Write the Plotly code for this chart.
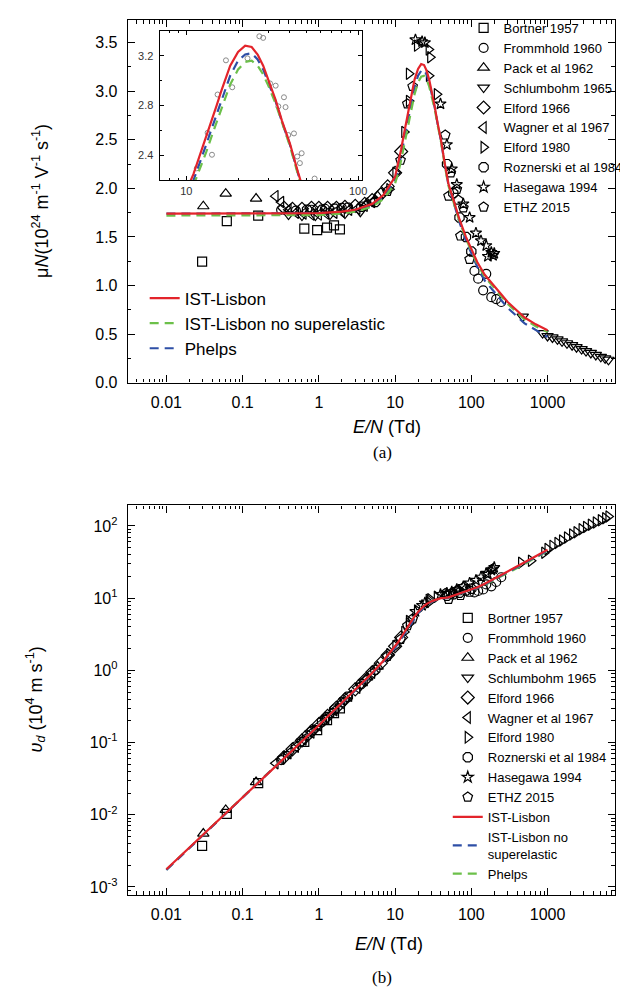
import plotly.graph_objects as go

# ---------------- data ----------------
# E/N (Td) grid of the computed curves
EN_fit = [0.01, 0.03, 0.1, 0.3, 1, 2, 3, 5, 7, 10, 11, 12, 13, 14, 15, 16, 18, 20, 22, 24,
          26, 28, 30, 33, 36, 40, 45, 50, 60, 70, 85, 100, 120, 150, 200, 300, 500, 700, 1000]
# (a) reduced mobility muN (1e24 m^-1 V^-1 s^-1)
mu_ist = [1.74, 1.74, 1.74, 1.74, 1.745, 1.76, 1.78, 1.84, 1.93, 2.12, 2.25, 2.40, 2.55, 2.68,
          2.80, 2.92, 3.12, 3.23, 3.28, 3.27, 3.21, 3.12, 3.01, 2.85, 2.68, 2.50, 2.25, 2.05,
          1.85, 1.68, 1.50, 1.38, 1.24, 1.11, 0.99, 0.83, 0.67, 0.60, 0.54]
mu_ist_nosup = [1.72, 1.72, 1.72, 1.72, 1.725, 1.74, 1.76, 1.81, 1.89, 2.05, 2.16, 2.29, 2.42,
                2.55, 2.67, 2.78, 2.97, 3.09, 3.15, 3.16, 3.12, 3.05, 2.96, 2.82, 2.66, 2.48,
                2.23, 2.03, 1.83, 1.66, 1.48, 1.36, 1.22, 1.09, 0.97, 0.81, 0.65, 0.58, 0.52]
mu_phelps = [1.74, 1.74, 1.74, 1.74, 1.745, 1.755, 1.77, 1.82, 1.91, 2.08, 2.20, 2.34, 2.48,
             2.61, 2.73, 2.85, 3.04, 3.16, 3.21, 3.22, 3.17, 3.09, 2.99, 2.84, 2.67, 2.49,
             2.24, 2.04, 1.83, 1.65, 1.46, 1.33, 1.19, 1.05, 0.93, 0.77, 0.61, 0.54, 0.47]
# (b) drift velocity (1e4 m/s)
vd_ist = [0.00176, 0.0052, 0.0174, 0.052, 0.174, 0.352, 0.534, 0.92, 1.35, 2.12, 2.47, 2.88,
          3.31, 3.75, 4.2, 4.67, 5.6, 6.46, 7.2, 7.85, 8.35, 8.74, 9.03, 9.4, 9.65, 10.0, 10.1,
          10.25, 11.0, 11.6, 12.4, 13.2, 14.2, 15.8, 18.6, 23.0, 31.0, 38.0, 47.0]
vd_ist_nosup = [0.00172, 0.00516, 0.0172, 0.0516, 0.1725, 0.348, 0.528, 0.905, 1.32, 2.05,
                2.38, 2.75, 3.15, 3.57, 4.0, 4.45, 5.35, 6.18, 6.93, 7.58, 8.11, 8.54, 8.88,
                9.3, 9.58, 9.92, 10.0, 10.15, 10.9, 11.5, 12.3, 13.0, 14.0, 15.5, 18.2, 22.6,
                30.2, 37.2, 46.0]
vd_phelps = [0.00174, 0.00522, 0.0174, 0.0522, 0.1745, 0.351, 0.531, 0.91, 1.34, 2.08, 2.42,
             2.81, 3.22, 3.65, 4.1, 4.56, 5.47, 6.32, 7.06, 7.73, 8.24, 8.65, 8.97, 9.37, 9.61,
             9.96, 10.05, 10.2, 10.9, 11.5, 12.2, 12.9, 13.8, 15.2, 17.9, 22.2, 29.6, 36.5,
             45.0]

series_names = ["Bortner 1957", "Frommhold 1960", "Pack et al 1962", "Schlumbohm 1965",
                "Elford 1966", "Wagner et al 1967", "Elford 1980", "Roznerski et al 1984",
                "Hasegawa 1994", "ETHZ 2015"]

bortner_en = [0.0294, 0.062, 0.16, 0.644, 0.95, 1.28, 1.58, 1.89]
bortner_mu = [1.245, 1.663, 1.72, 1.585, 1.571, 1.595, 1.619, 1.578]
bortner_vd = [0.0037, 0.0103, 0.0275, 0.102, 0.149, 0.204, 0.256, 0.298]

frommhold_en = [0.32, 0.5, 0.8, 1.2, 2.0, 110, 123, 143, 157, 183, 212, 247]
frommhold_mu = [1.78, 1.77, 1.78, 1.79, 1.80, 1.15, 1.07, 0.95, 1.12, 0.88, 0.86, 0.83]
frommhold_vd = [0.057, 0.0885, 0.142, 0.215, 0.36, 12.0, 12.6, 13.2, 15.5, 14.6, 16.8, 19.5]

pack_en = [0.0305, 0.060, 0.150, 4.3, 5.9]
pack_mu = [1.816, 1.946, 1.895, 1.85, 1.92]
pack_vd = [0.0055, 0.0117, 0.0284, 0.80, 1.13]

schl_en_a = [0.4, 0.6, 0.9, 1.4, 2.2, 3.5, 473, 861, 1000, 1160, 1350, 1550, 1800, 2100,
             2400, 2800, 3200, 3700, 4300, 5000, 5700, 6300]
schl_mu = [1.73, 1.72, 1.72, 1.73, 1.74, 1.76, 0.68, 0.51, 0.48, 0.465, 0.445, 0.425, 0.405,
           0.385, 0.365, 0.345, 0.325, 0.305, 0.285, 0.265, 0.25, 0.235]
schl_en_b = [0.4, 0.6, 0.9, 1.4, 2.2, 3.5]
schl_vd = [0.0692, 0.103, 0.155, 0.242, 0.383, 0.616]

elford66_en = [0.35, 0.45, 0.6, 0.8, 1.0, 1.3, 1.7, 2.2, 3, 4, 5, 6.5, 8, 10, 12]
elford66_mu = [1.80, 1.79, 1.79, 1.80, 1.80, 1.80, 1.80, 1.81, 1.82, 1.84, 1.88, 1.94, 2.02,
               2.16, 2.38]
elford66_vd = [0.063, 0.0806, 0.107, 0.144, 0.18, 0.234, 0.306, 0.398, 0.546, 0.736, 0.94,
               1.26, 1.62, 2.16, 2.86]

wagner_en = [0.27, 0.32, 0.4, 0.5, 0.63, 0.8, 1.0, 1.25, 1.6, 2.0, 2.5, 3.2, 4.0, 5.0]
wagner_mu = [1.92, 1.86, 1.78, 1.75, 1.74, 1.73, 1.73, 1.74, 1.75, 1.76, 1.78, 1.79, 1.82, 1.86]
wagner_vd = [0.0518, 0.0595, 0.0712, 0.0875, 0.110, 0.138, 0.173, 0.218, 0.28, 0.352, 0.445,
             0.573, 0.728, 0.93]

elford80_en_a = [8.4, 10.1, 13.2, 15.2, 15.2, 19.4, 27.6, 28.9, 27.8, 35.3]
elford80_mu = [1.99, 2.16, 2.58, 2.90, 3.18, 3.47, 3.43, 3.35, 3.16, 2.97]
elford80_en_b = [8.4, 10.1, 13.2, 15.2, 15.2, 19.4, 27.6, 28.9, 27.8, 35.3, 450, 606, 906,
                 1000, 1160, 1350, 1550, 1800, 2100, 2400, 2800, 3200, 3700, 4300, 5000, 5700,
                 6300]
elford80_vd = [1.67, 2.18, 3.41, 4.41, 4.83, 6.73, 9.47, 9.68, 8.78, 10.5, 31, 33, 42.6, 48,
               53, 58, 63, 69, 76, 82, 90, 97, 104, 112, 120, 128, 135]

rozn_en = [0.7, 1.1, 1.6, 2.4, 3.6, 5.5, 48, 58, 70, 85, 100]
rozn_mu = [1.78, 1.78, 1.79, 1.80, 1.81, 1.86, 2.25, 1.95, 1.70, 1.50, 1.35]
rozn_vd = [0.125, 0.196, 0.286, 0.432, 0.652, 1.02, 10.8, 11.3, 11.9, 12.75, 13.5]

hase_en = [18.5, 22.6, 24.6, 39.4, 47.8, 55.4, 64.5, 78.6, 95, 115, 134, 157, 165, 183, 193, 200]
hase_mu = [3.53, 3.51, 3.50, 2.87, 2.45, 2.20, 2.04, 1.84, 1.70, 1.54, 1.46, 1.41, 1.30, 1.34,
           1.31, 1.33]
hase_vd = [6.53, 7.93, 8.61, 11.3, 11.7, 12.2, 13.2, 14.5, 16.2, 17.7, 19.6, 22.1, 21.5, 24.5,
           25.3, 26.6]

ethz_en = [7.9, 11.8, 14.5, 17, 45.5, 53.8, 64.5, 67.5, 78.6, 50.3, 72, 95]
ethz_mu = [1.97, 2.29, 2.87, 3.05, 2.55, 2.16, 1.99, 1.88, 1.80, 1.92, 1.51, 1.27]
ethz_vd = [1.56, 2.70, 4.16, 5.19, 11.6, 11.6, 12.8, 12.7, 14.1, 9.66, 10.9, 12.1]

# inset: experimental points near the peak (grey circles)
inset_en = [11.5, 13.3, 14.1, 15.2, 17.0, 18.5, 22.7, 26.6, 28.0, 30.7, 33.1, 34.3, 37.0, 37.8,
            39.2, 42.3, 44.2, 45.8, 46.9, 55.8]
inset_mu = [2.297, 2.582, 2.406, 2.889, 3.163, 2.947, 3.179, 3.356, 3.343, 2.978, 2.96, 2.794,
            2.867, 2.788, 2.564, 2.577, 2.392, 2.339, 2.418, 2.215]

x_tick_vals = [0.01, 0.1, 1, 10, 100, 1000]
x_tick_text = ["0.01", "0.1", "1", "10", "100", "1000"]
vd_tick_vals = [1e-3, 1e-2, 1e-1, 1, 10, 100]
vd_tick_text = ["10<sup>-3</sup>", "10<sup>-2</sup>", "10<sup>-1</sup>", "10<sup>0</sup>",
                "10<sup>1</sup>", "10<sup>2</sup>"]

# ---------------- styling ----------------
W, H = 628, 998
FONT = "Liberation Sans, Arial, sans-serif"
SERIF = "Liberation Serif, DejaVu Serif, serif"
RED = "#e3242b"
GREEN = "#6cc04a"
BLUE = "#2e4fa6"
DASH = "9px,6px"


def fx(p):
    return p / W


def fy(p):
    return 1 - p / H


sym = ["square-open", "circle-open", "triangle-up-open", "triangle-down-open", "diamond-open",
       "triangle-left-open", "triangle-right-open", "octagon-open", "star-open", "pentagon-open"]
sizes = [9, 9, 10, 10, 10, 10, 10, 10, 8.5, 10]

data_a = [(bortner_en, bortner_mu), (frommhold_en, frommhold_mu), (pack_en, pack_mu),
          (schl_en_a, schl_mu), (elford66_en, elford66_mu), (wagner_en, wagner_mu),
          (elford80_en_a, elford80_mu), (rozn_en, rozn_mu), (hase_en, hase_mu),
          (ethz_en, ethz_mu)]
data_b = [(bortner_en, bortner_vd), (frommhold_en, frommhold_vd), (pack_en, pack_vd),
          (schl_en_b, schl_vd), (elford66_en, elford66_vd), (wagner_en, wagner_vd),
          (elford80_en_b, elford80_vd), (rozn_en, rozn_vd), (hase_en, hase_vd),
          (ethz_en, ethz_vd)]

fig = go.Figure()

for i, (xs, ys) in enumerate(data_a):
    fig.add_trace(go.Scatter(
        x=xs, y=ys, mode="markers", name=series_names[i], xaxis="x", yaxis="y",
        legend="legend", legendrank=i + 1,
        marker=dict(symbol=sym[i], size=sizes[i], color="black",
                    line=dict(color="black", width=1.2))))

# (a) curves (drawn red last so it sits on top)
fig.add_trace(go.Scatter(x=EN_fit, y=mu_phelps, mode="lines", name="Phelps", xaxis="x",
                         yaxis="y", legend="legend2", legendrank=3,
                         line=dict(color=BLUE, width=2.2, dash=DASH)))
fig.add_trace(go.Scatter(x=EN_fit, y=mu_ist_nosup, mode="lines",
                         name="IST-Lisbon no superelastic", xaxis="x", yaxis="y",
                         legend="legend2", legendrank=2,
                         line=dict(color=GREEN, width=2.2, dash=DASH)))
fig.add_trace(go.Scatter(x=EN_fit, y=mu_ist, mode="lines", name="IST-Lisbon", xaxis="x",
                         yaxis="y", legend="legend2", legendrank=1,
                         line=dict(color=RED, width=2.2)))

# inset
fig.add_trace(go.Scatter(x=inset_en, y=inset_mu, mode="markers", showlegend=False,
                         xaxis="x3", yaxis="y3",
                         marker=dict(symbol="circle-open", size=5, color="#8a8a8a",
                                     line=dict(color="#8a8a8a", width=1))))
fig.add_trace(go.Scatter(x=EN_fit, y=mu_phelps, mode="lines", showlegend=False, xaxis="x3",
                         yaxis="y3", line=dict(color=BLUE, width=2.2, dash=DASH)))
fig.add_trace(go.Scatter(x=EN_fit, y=mu_ist_nosup, mode="lines", showlegend=False,
                         xaxis="x3", yaxis="y3", line=dict(color=GREEN, width=2.2, dash=DASH)))
fig.add_trace(go.Scatter(x=EN_fit, y=mu_ist, mode="lines", showlegend=False, xaxis="x3",
                         yaxis="y3", line=dict(color=RED, width=2.2)))

# (b)
for i, (xs, ys) in enumerate(data_b):
    fig.add_trace(go.Scatter(
        x=xs, y=ys, mode="markers", name=series_names[i], xaxis="x2", yaxis="y2",
        legend="legend3", legendrank=i + 1,
        marker=dict(symbol=sym[i], size=sizes[i], color="black",
                    line=dict(color="black", width=1.2))))
fig.add_trace(go.Scatter(x=EN_fit, y=vd_phelps, mode="lines", name="Phelps", xaxis="x2",
                         yaxis="y2", legend="legend3", legendrank=13,
                         line=dict(color=GREEN, width=2.2, dash=DASH)))
fig.add_trace(go.Scatter(x=EN_fit, y=vd_ist_nosup, mode="lines",
                         name="IST-Lisbon no<br>superelastic", xaxis="x2", yaxis="y2",
                         legend="legend3", legendrank=12,
                         line=dict(color=BLUE, width=2.2, dash=DASH)))
fig.add_trace(go.Scatter(x=EN_fit, y=vd_ist, mode="lines", name="IST-Lisbon", xaxis="x2",
                         yaxis="y2", legend="legend3", legendrank=11,
                         line=dict(color=RED, width=2.2)))

minor_log = [m * 10.0 ** e for e in range(-4, 5) for m in range(2, 10)]

base_ax = dict(showline=True, linecolor="black", linewidth=1.3, mirror="ticks",
               ticks="inside", ticklen=7, tickwidth=1.2, tickcolor="black", showgrid=False,
               zeroline=False, tickfont=dict(family=FONT, size=16, color="black"))

# plot-area pixel boxes
A_L, A_R, A_T, A_B = 121, 613, 12, 378
B_T, B_B = 502, 895
I_L, I_R, I_T, I_B = 153, 357, 23, 174


def label(text, px, py, size=18, family=FONT, angle=0):
    return dict(text=text, x=fx(px), y=fy(py), xref="paper", yref="paper",
                xanchor="center", yanchor="middle", showarrow=False, textangle=angle,
                font=dict(family=family, size=size, color="black"))


fig.update_layout(
    width=W, height=H, margin=dict(l=0, r=0, t=0, b=0),
    paper_bgcolor="white", plot_bgcolor="white",
    font=dict(family=FONT, color="black"),
    xaxis=dict(base_ax, type="log", range=[-2.506, 3.887], domain=[fx(A_L), fx(A_R)],
               anchor="y", tickvals=x_tick_vals, ticktext=x_tick_text, ticklabelstandoff=5,
               minor=dict(ticks="inside", ticklen=3.5, tickwidth=1, tickcolor="black",
                          tickvals=minor_log, showgrid=False)),
    yaxis=dict(base_ax, range=[0, 3.735], domain=[fy(A_B), fy(A_T)], anchor="x",
               tick0=0, dtick=0.5, tickformat=".1f", ticklabelstandoff=6,
               minor=dict(ticks="inside", ticklen=3.5, tickwidth=1, tickcolor="black",
                          dtick=0.25, showgrid=False)),
    xaxis2=dict(base_ax, type="log", range=[-2.506, 3.887], domain=[fx(A_L), fx(A_R)],
                anchor="y2", tickvals=x_tick_vals, ticktext=x_tick_text, ticklabelstandoff=5,
                minor=dict(ticks="inside", ticklen=3.5, tickwidth=1, tickcolor="black",
                           tickvals=minor_log, showgrid=False)),
    yaxis2=dict(base_ax, type="log", range=[-3.11, 2.284], domain=[fy(B_B), fy(B_T)],
                anchor="x2", tickvals=vd_tick_vals, ticktext=vd_tick_text,
                ticklabelstandoff=6,
                minor=dict(ticks="inside", ticklen=3.5, tickwidth=1, tickcolor="black",
                           tickvals=minor_log, showgrid=False)),
    xaxis3=dict(base_ax, type="log", range=[0.844, 2.02], domain=[fx(I_L), fx(I_R)],
                anchor="y3", tickvals=[10, 100], ticktext=["10", "100"], ticklen=4,
                tickfont=dict(family=FONT, size=11, color="#333"), ticklabelstandoff=0,
                linewidth=1,
                minor=dict(ticks="inside", ticklen=2.5, tickwidth=0.8, tickcolor="black",
                           tickvals=minor_log, showgrid=False)),
    yaxis3=dict(base_ax, range=[2.2, 3.4], domain=[fy(I_B), fy(I_T)], anchor="x3",
                tickvals=[2.4, 2.8, 3.2], ticktext=["2.4", "2.8", "3.2"], ticklen=4,
                tickfont=dict(family=FONT, size=11, color="#333"), ticklabelstandoff=3,
                linewidth=1,
                minor=dict(ticks="inside", ticklen=2.5, tickwidth=0.8, tickcolor="black",
                           tickvals=[2.2, 2.6, 3.0, 3.4], showgrid=False)),
    legend=dict(x=fx(460), y=fy(5), xanchor="left", yanchor="top",
                bgcolor="rgba(0,0,0,0)", borderwidth=0, itemwidth=30,
                font=dict(family=FONT, size=13, color="black"), traceorder="normal"),
    legend2=dict(x=fx(138), y=fy(275), xanchor="left", yanchor="top",
                 bgcolor="rgba(0,0,0,0)", borderwidth=0, itemwidth=30,
                 font=dict(family=FONT, size=17, color="black"), traceorder="normal"),
    legend3=dict(x=fx(444), y=fy(889), xanchor="left", yanchor="bottom",
                 bgcolor="rgba(0,0,0,0)", borderwidth=0, itemwidth=30,
                 font=dict(family=FONT, size=13, color="black"), traceorder="normal"),
    annotations=[
        label("μ<i>N</i>(10<sup>24</sup> m<sup>-1</sup> V<sup>-1</sup> s<sup>-1</sup>)",
              33, 195, angle=-90),
        label("<i>E/N</i> (Td)", 383, 423),
        label("(a)", 378, 449, size=17, family=SERIF),
        label("<i>υ<sub>d</sub></i> (10<sup>4</sup> m s<sup>-1</sup>)", 28, 698, angle=-90),
        label("<i>E/N</i> (Td)", 385, 945),
        label("(b)", 378, 978, size=17, family=SERIF),
    ],
)

fig.write_html("out.html")
